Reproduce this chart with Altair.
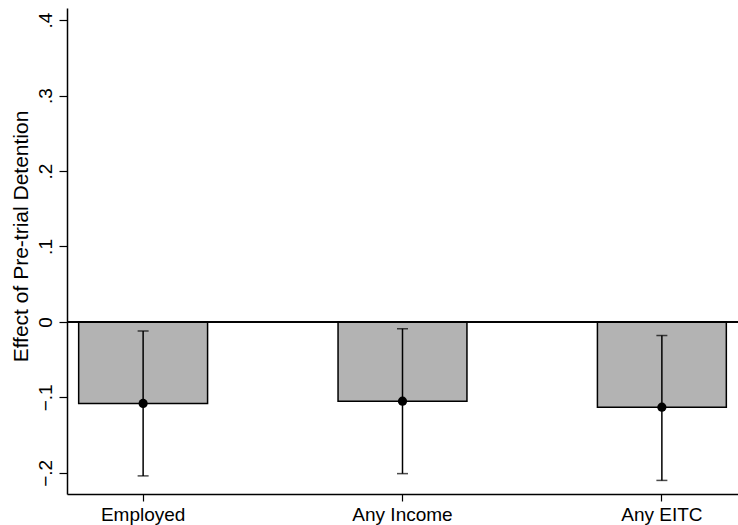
import altair as alt
import pandas as pd

cats = ["Employed", "Any Income", "Any EITC"]
est = [-0.108, -0.105, -0.113]
ci_lo = [-0.204, -0.201, -0.210]
ci_hi = [-0.012, -0.009, -0.018]

df = pd.DataFrame({"cat": cats, "est": est, "lo": ci_lo, "hi": ci_hi})

FONT = "Liberation Sans"
ydom = [-0.228, 0.416]

x_enc = alt.X(
    "cat:N",
    sort=cats,
    title=None,
    scale=alt.Scale(paddingInner=0.503, paddingOuter=0.045),
    axis=alt.Axis(
        labelAngle=0,
        labelFont=FONT,
        labelFontSize=19,
        labelColor="black",
        labelPadding=4,
        tickSize=7,
        tickColor="black",
        tickWidth=1.2,
        domainColor="black",
        domainWidth=1.5,
        grid=False,
    ),
)

y_scale = alt.Scale(domain=ydom, nice=False, zero=False)

bars = alt.Chart(df).mark_bar(
    color="#b3b3b3", stroke="black", strokeWidth=1.5
).encode(
    x=x_enc,
    y=alt.Y(
        "est:Q",
        scale=y_scale,
        title="Effect of Pre-trial Detention",
        axis=alt.Axis(
            values=[-0.2, -0.1, 0, 0.1, 0.2, 0.3, 0.4],
            labelExpr="datum.value == 0 ? '0' : replace(format(datum.value, '.1f'), '0.', '.')",
            labelAngle=270,
            labelFont=FONT,
            labelFontSize=19,
            labelColor="black",
            labelPadding=4,
            tickSize=8,
            tickColor="black",
            tickWidth=1.2,
            domainColor="black",
            domainWidth=1.5,
            grid=False,
            titleFont=FONT,
            titleFontSize=21,
            titleFontWeight="normal",
            titleColor="black",
            titleAngle=270,
            titleX=-36,
            titleY=228,
            titleBaseline="bottom",
        ),
    ),
    y2=alt.datum(0),
)

zero = alt.Chart(df).mark_rule(color="black", strokeWidth=1.5).encode(
    y=alt.Y("z:Q", scale=y_scale),
).transform_calculate(z="0")

rules = alt.Chart(df).mark_rule(color="black", strokeWidth=1.5).encode(
    x=alt.X("cat:N", sort=cats),
    y=alt.Y("lo:Q", scale=y_scale),
    y2="hi:Q",
)

caps_lo = alt.Chart(df).mark_tick(color="black", size=11, thickness=1.5, orient="horizontal").encode(
    x=alt.X("cat:N", sort=cats),
    y=alt.Y("lo:Q", scale=y_scale),
)
caps_hi = alt.Chart(df).mark_tick(color="black", size=11, thickness=1.5, orient="horizontal").encode(
    x=alt.X("cat:N", sort=cats),
    y=alt.Y("hi:Q", scale=y_scale),
)

points = alt.Chart(df).mark_point(filled=True, color="black", size=85, opacity=1).encode(
    x=alt.X("cat:N", sort=cats),
    y=alt.Y("est:Q", scale=y_scale),
)

chart = alt.layer(bars, zero, rules, caps_lo, caps_hi, points).properties(
    width=671,
    height=486,
    padding={"left": 67, "top": 8, "right": 0, "bottom": 31},
    autosize=alt.AutoSizeParams(type="none"),
    background="white",
).configure_view(stroke=None).configure_axis(labelFont=FONT)

chart.save("out.html", embed_options={"renderer": "svg", "actions": False})
